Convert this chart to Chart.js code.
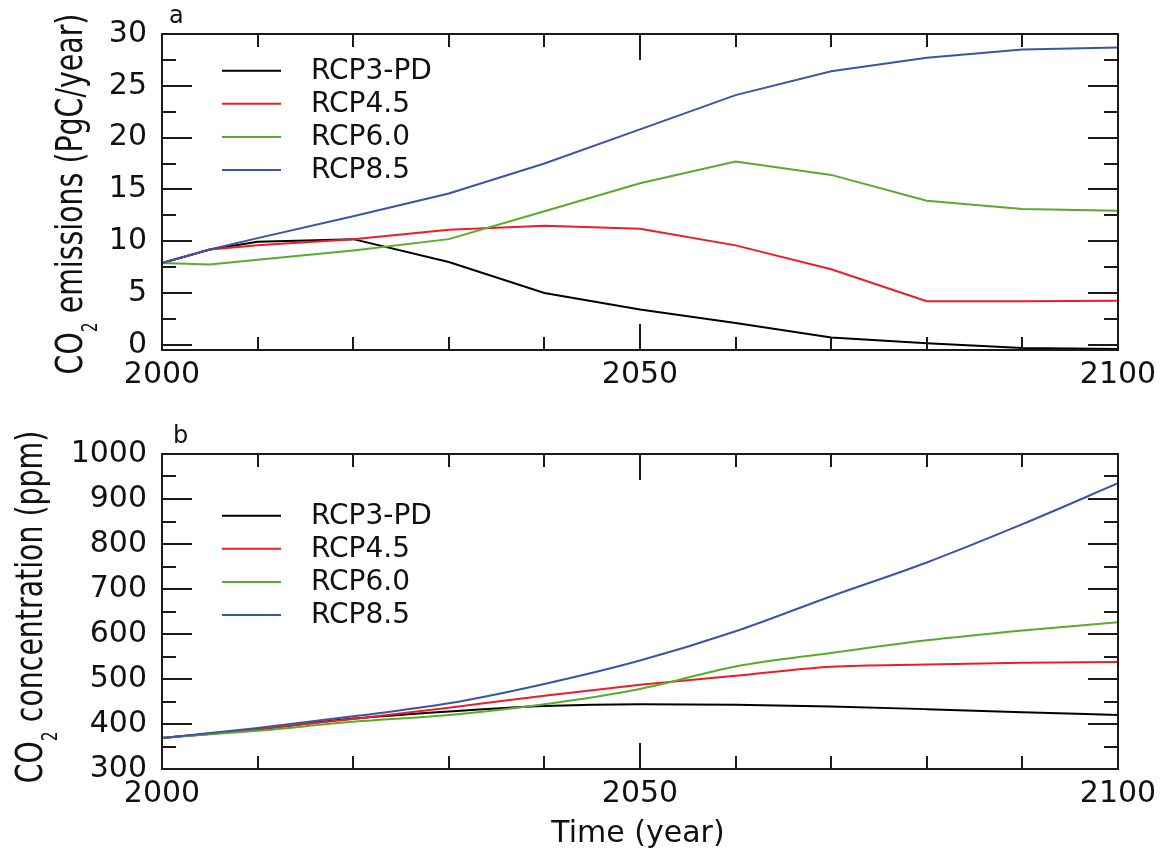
<!DOCTYPE html>
<html>
<head>
<meta charset="utf-8">
<title>RCP CO2</title>
<script src="https://cdn.jsdelivr.net/npm/chart.js@4.4.1/dist/chart.umd.min.js"></script>
<style>
  body { margin: 0; background: #fff; }
  #wrap { position: relative; width: 1173px; height: 852px; }
  canvas { position: absolute; left: 0; }
</style>
</head>
<body>
<div id="wrap">
  <canvas id="emisi" width="1173" height="400" style="top:0"></canvas>
  <canvas id="konsentrasi" width="1173" height="452" style="top:400px"></canvas>
</div>
<script>
// tahun untuk panel emisi (ada titik 2005)
const tahunEmisi = [2000, 2005, 2010, 2020, 2030, 2040, 2050, 2060, 2070, 2080, 2090, 2100];
const emisiRCP3PD = [7.9, 9.2, 9.95, 10.2, 8.0, 5.0, 3.4, 2.1, 0.7, 0.15, -0.3, -0.4];
const emisiRCP45  = [7.9, 9.2, 9.6, 10.2, 11.1, 11.5, 11.2, 9.6, 7.3, 4.2, 4.2, 4.25];
const emisiRCP60  = [7.9, 7.75, 8.2, 9.1, 10.2, 12.9, 15.6, 17.7, 16.4, 13.9, 13.1, 12.95];
const emisiRCP85  = [7.9, 9.2, 10.3, 12.4, 14.6, 17.5, 20.8, 24.1, 26.4, 27.7, 28.5, 28.7];

// tahun untuk panel konsentrasi
const tahunKons = [2000, 2010, 2020, 2030, 2040, 2050, 2060, 2070, 2080, 2090, 2100];
const konsRCP3PD = [369, 388, 412, 428, 440, 444, 443, 439, 433, 426, 420];
const konsRCP45  = [369, 389, 411, 436, 463, 487, 507, 527, 532, 536, 538];
const konsRCP60  = [369, 385, 405, 420, 444, 478, 528, 558, 586, 608, 626];
const konsRCP85  = [369, 391, 417, 446, 489, 541, 606, 684, 759, 844, 935];

const namaSkenario = ['RCP3-PD', 'RCP4.5', 'RCP6.0', 'RCP8.5'];
const warnaSkenario = ['#000000', '#ee1d25', '#57ad29', '#3b55a5'];
const labelTahun = [2000, 2050, 2100];

const FONT = '"DejaVu Sans", sans-serif';

function titik(xs, ys) {
    return xs.map((t, i) => ({ x: t, y: ys[i] }));
}

function buatDataset(xs, series, tension) {
    // urutan gambar: RCP8.5 paling atas
    const urutan = [3, 2, 1, 0];
    return series.map((s, i) => ({
        label: namaSkenario[i],
        data: titik(xs, s),
        borderColor: warnaSkenario[i],
        borderWidth: 2,
        pointRadius: 0,
        tension: tension,
        cubicInterpolationMode: tension > 0 ? 'monotone' : 'default',
        order: urutan[i]
    }));
}

function garis(ctx, x1, y1, x2, y2) {
    ctx.beginPath();
    ctx.moveTo(x1, y1);
    ctx.lineTo(x2, y2);
    ctx.stroke();
}

// judul sumbu Y dengan subskrip 2
function tulisJudulY(ctx, x, yTengah, sisa, size, k) {
    ctx.save();
    ctx.translate(x, yTengah);
    ctx.rotate(-Math.PI / 2);
    ctx.scale(1, k);
    const f = size + 'px ' + FONT;
    const fs = (size * 0.55) + 'px ' + FONT;
    ctx.font = f;
    const w1 = ctx.measureText('CO').width;
    const w3 = ctx.measureText(sisa).width;
    ctx.font = fs;
    const w2 = ctx.measureText('2').width;
    const x0 = -(w1 + w2 + w3) / 2;
    ctx.fillStyle = '#111';
    ctx.textBaseline = 'alphabetic';
    ctx.textAlign = 'left';
    ctx.font = f;
    ctx.fillText('CO', x0, 0);
    ctx.font = fs;
    ctx.fillText('2', x0 + w1, size * 0.4);
    ctx.font = f;
    ctx.fillText(sisa, x0 + w1 + w2, 0);
    ctx.restore();
}

// bingkai, tick ke dalam, legenda, huruf panel
const panelPlugin = {
    id: 'panel',
    afterDatasetsDraw(chart, args, opts) {
        const ctx = chart.ctx;
        const a = chart.chartArea;
        const sx = chart.scales.x, sy = chart.scales.y;
        ctx.save();
        ctx.strokeStyle = '#1a1a1a';
        ctx.lineWidth = 2;
        ctx.lineCap = 'butt';
        sx.ticks.forEach(t => {
            if (t.value <= sx.min || t.value >= sx.max) return;
            const px = Math.round(sx.getPixelForValue(t.value));
            const len = t.value % 50 === 0 ? 26 : 13;
            garis(ctx, px, a.top, px, a.top + len);
            garis(ctx, px, a.bottom, px, a.bottom - len);
        });
        sy.ticks.forEach(t => {
            if (t.value < sy.min || t.value > sy.max) return;
            const py = Math.round(sy.getPixelForValue(t.value));
            const len = t.value % opts.mayor === 0 ? 30 : 14;
            garis(ctx, a.left, py, a.left + len, py);
            garis(ctx, a.right, py, a.right - len, py);
        });
        ctx.strokeRect(a.left, a.top, a.right - a.left, a.bottom - a.top);
        ctx.restore();
    },
    afterDraw(chart, args, opts) {
        const ctx = chart.ctx;
        ctx.save();
        // legenda
        ctx.font = '28px ' + FONT;
        ctx.textBaseline = 'middle';
        ctx.textAlign = 'left';
        chart.data.datasets.forEach((ds, i) => {
            const y = opts.legendaY + i * 33.1;
            ctx.strokeStyle = ds.borderColor;
            ctx.lineWidth = 2;
            garis(ctx, 222, y, 281, y);
            ctx.fillStyle = '#111';
            ctx.fillText(ds.label, 311, y + 1);
        });
        // huruf panel
        ctx.font = '24px ' + FONT;
        ctx.textBaseline = 'alphabetic';
        ctx.fillText(opts.huruf, opts.hurufX, opts.hurufY);
        // judul sumbu
        tulisJudulY(ctx, opts.judulX, opts.judulYTengah, opts.judulY, 28.4, 1.3);
        if (opts.judulX2) {
            ctx.font = '30px ' + FONT;
            ctx.textAlign = 'center';
            ctx.fillStyle = '#111';
            ctx.fillText(opts.judulX2, 638, opts.judulX2Y);
        }
        ctx.restore();
    }
};

function opsi(ymin, ymax, step, mayor, tinggiX, padAtas, panel) {
    return {
        responsive: false,
        animation: false,
        devicePixelRatio: 1,
        layout: { padding: { top: padAtas, right: 55, left: 0, bottom: 0 } },
        plugins: {
            legend: { display: false },
            tooltip: { enabled: false },
            panel: panel
        },
        scales: {
            x: {
                type: 'linear',
                min: 2000,
                max: 2100,
                grid: { display: false, drawTicks: false },
                border: { display: false },
                afterFit: s => { s.height = tinggiX; },
                ticks: {
                    stepSize: 10,
                    autoSkip: false,
                    maxRotation: 0,
                    padding: 7,
                    color: '#111',
                    font: { family: FONT, size: 30 },
                    callback: v => labelTahun.includes(v) ? String(v) : ''
                }
            },
            y: {
                min: ymin,
                max: ymax,
                grid: { display: false, drawTicks: false },
                border: { display: false },
                afterFit: s => { s.width = 162; },
                ticks: {
                    stepSize: step,
                    includeBounds: false,
                    autoSkip: false,
                    padding: 15,
                    color: '#111',
                    font: { family: FONT, size: 30 },
                    callback: v => v % mayor === 0 ? String(v) : ''
                }
            }
        }
    };
}

new Chart(document.getElementById('emisi'), {
    type: 'line',
    data: {
        datasets: buatDataset(tahunEmisi, [emisiRCP3PD, emisiRCP45, emisiRCP60, emisiRCP85], 0)
    },
    options: opsi(-0.5, 30, 2.5, 5, 50, 34, {
        mayor: 5,
        legendaY: 70.7,
        huruf: 'a', hurufX: 169, hurufY: 23,
        judulX: 82, judulYTengah: 194,
        judulY: ' emissions (PgC/year)'
    }),
    plugins: [panelPlugin]
});

new Chart(document.getElementById('konsentrasi'), {
    type: 'line',
    data: {
        datasets: buatDataset(tahunKons, [konsRCP3PD, konsRCP45, konsRCP60, konsRCP85], 0.3)
    },
    options: opsi(300, 1000, 50, 100, 83, 54, {
        mayor: 100,
        legendaY: 115.7,
        huruf: 'b', hurufX: 173, hurufY: 43,
        judulX: 42, judulYTengah: 207,
        judulY: ' concentration (ppm)',
        judulX2: 'Time (year)', judulX2Y: 442
    }),
    plugins: [panelPlugin]
});
</script>
</body>
</html>
